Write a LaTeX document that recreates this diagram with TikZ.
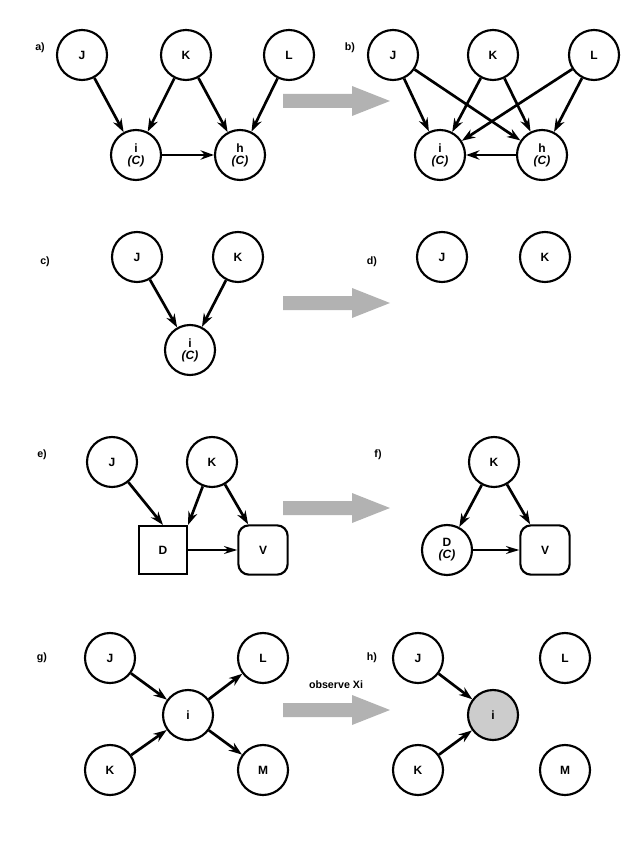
\documentclass[tikz,border=0pt]{standalone}
\usepackage{fontspec}
\setmainfont{Liberation Sans}
\usetikzlibrary{arrows.meta}
\begin{document}
\begin{tikzpicture}[x=0.75pt,y=-0.75pt,
  every node/.style={font=\bfseries\small},
  nd/.style={circle,draw,line width=1.6pt,minimum size=37.5pt,inner sep=0pt,align=center},
  sq/.style={rectangle,draw,line width=1.6pt,minimum size=36pt,inner sep=0pt},
  rd/.style={rectangle,rounded corners=8pt,draw,line width=1.6pt,minimum size=37pt,inner sep=0pt},
  ed/.style={line width=2pt,-{Stealth[length=10pt,width=7pt]}},
  thin/.style={line width=1.2pt,-{Stealth[length=10pt,width=6pt]}},
  big/.style={fill=gray!60},
  lab/.style={font=\bfseries\footnotesize}]
\useasboundingbox (0,0) rectangle (640,841);
% a
\node[lab] (la) at (40,48) {a)};
\node[nd] (aJ) at (82,55) {J};
\node[nd] (aK) at (186,55) {K};
\node[nd] (aL) at (289,55) {L};
\node[nd] (ai) at (136,155) {i\\[-2pt]\textit{(C)}};
\node[nd] (ah) at (240,155) {h\\[-2pt]\textit{(C)}};
\draw[ed] (aJ)--(ai); \draw[ed] (aK)--(ai); \draw[ed] (aK)--(ah); \draw[ed] (aL)--(ah); \draw[ed] (ai)--(ah);
\fill[big] (283,94) -- (352,94) -- (352,86) -- (390,101) -- (352,116) -- (352,108) -- (283,108) -- cycle;
% b
\node[lab] (lb) at (350,48) {b)};
\node[nd] (bJ) at (393,55) {J};
\node[nd] (bK) at (493,55) {K};
\node[nd] (bL) at (594,55) {L};
\node[nd] (bi) at (440,155) {i\\[-2pt]\textit{(C)}};
\node[nd] (bh) at (542,155) {h\\[-2pt]\textit{(C)}};
\draw[ed] (bJ)--(bi); \draw[ed] (bJ)--(bh); \draw[ed] (bK)--(bi); \draw[ed] (bK)--(bh);
\draw[ed] (bL)--(bi); \draw[ed] (bL)--(bh); \draw[ed] (bh)--(bi);
% c
\node[lab] (lc) at (45,262) {c)};
\node[nd] (cJ) at (137,257) {J};
\node[nd] (cK) at (238,257) {K};
\node[nd] (ci) at (190,350) {i\\[-2pt]\textit{(C)}};
\draw[ed] (cJ)--(ci); \draw[ed] (cK)--(ci);
\fill[big] (283,296) -- (352,296) -- (352,288) -- (390,303) -- (352,318) -- (352,310) -- (283,310) -- cycle;
% d
\node[lab] (ld) at (372,262) {d)};
\node[nd] (dJ) at (442,257) {J};
\node[nd] (dK) at (545,257) {K};
% e
\node[lab] (le) at (42,455) {e)};
\node[nd] (eJ) at (112,462) {J};
\node[nd] (eK) at (212,462) {K};
\node[sq] (eD) at (163,550) {D};
\node[rd] (eV) at (263,550) {V};
\draw[ed] (eJ)--(eD.north); \draw[ed] (eK)--(eD.north east); \draw[ed] (eK)--(eV);
\draw[thin] (eD)--(eV);
\fill[big] (283,501) -- (352,501) -- (352,493) -- (390,508) -- (352,523) -- (352,515) -- (283,515) -- cycle;
% f
\node[lab] (lf) at (378,455) {f)};
\node[nd] (fK) at (494,462) {K};
\node[nd] (fD) at (447,550) {D\\[-2pt]\textit{(C)}};
\node[rd] (fV) at (545,550) {V};
\draw[ed] (fK)--(fD); \draw[ed] (fK)--(fV);
\draw[thin] (fD)--(fV);
% g
\node[lab] (lg) at (42,658) {g)};
\node[nd] (gJ) at (110,658) {J};
\node[nd] (gL) at (263,658) {L};
\node[nd] (gi) at (188,715) {i};
\node[nd] (gK) at (110,770) {K};
\node[nd] (gM) at (263,770) {M};
\draw[ed] (gJ)--(gi); \draw[ed] (gK)--(gi); \draw[ed] (gi)--(gL); \draw[ed] (gi)--(gM);
\fill[big] (283,703) -- (352,703) -- (352,695) -- (390,710) -- (352,725) -- (352,717) -- (283,717) -- cycle;
\node[lab] (obs) at (336,685) {observe Xi};
% h
\node[lab] (lh) at (372,658) {h)};
\node[nd] (hJ) at (418,658) {J};
\node[nd] (hL) at (565,658) {L};
\node[nd,fill=gray!40] (hi) at (493,715) {i};
\node[nd] (hK) at (418,770) {K};
\node[nd] (hM) at (565,770) {M};
\draw[ed] (hJ)--(hi); \draw[ed] (hK)--(hi);
\end{tikzpicture}
\end{document}
